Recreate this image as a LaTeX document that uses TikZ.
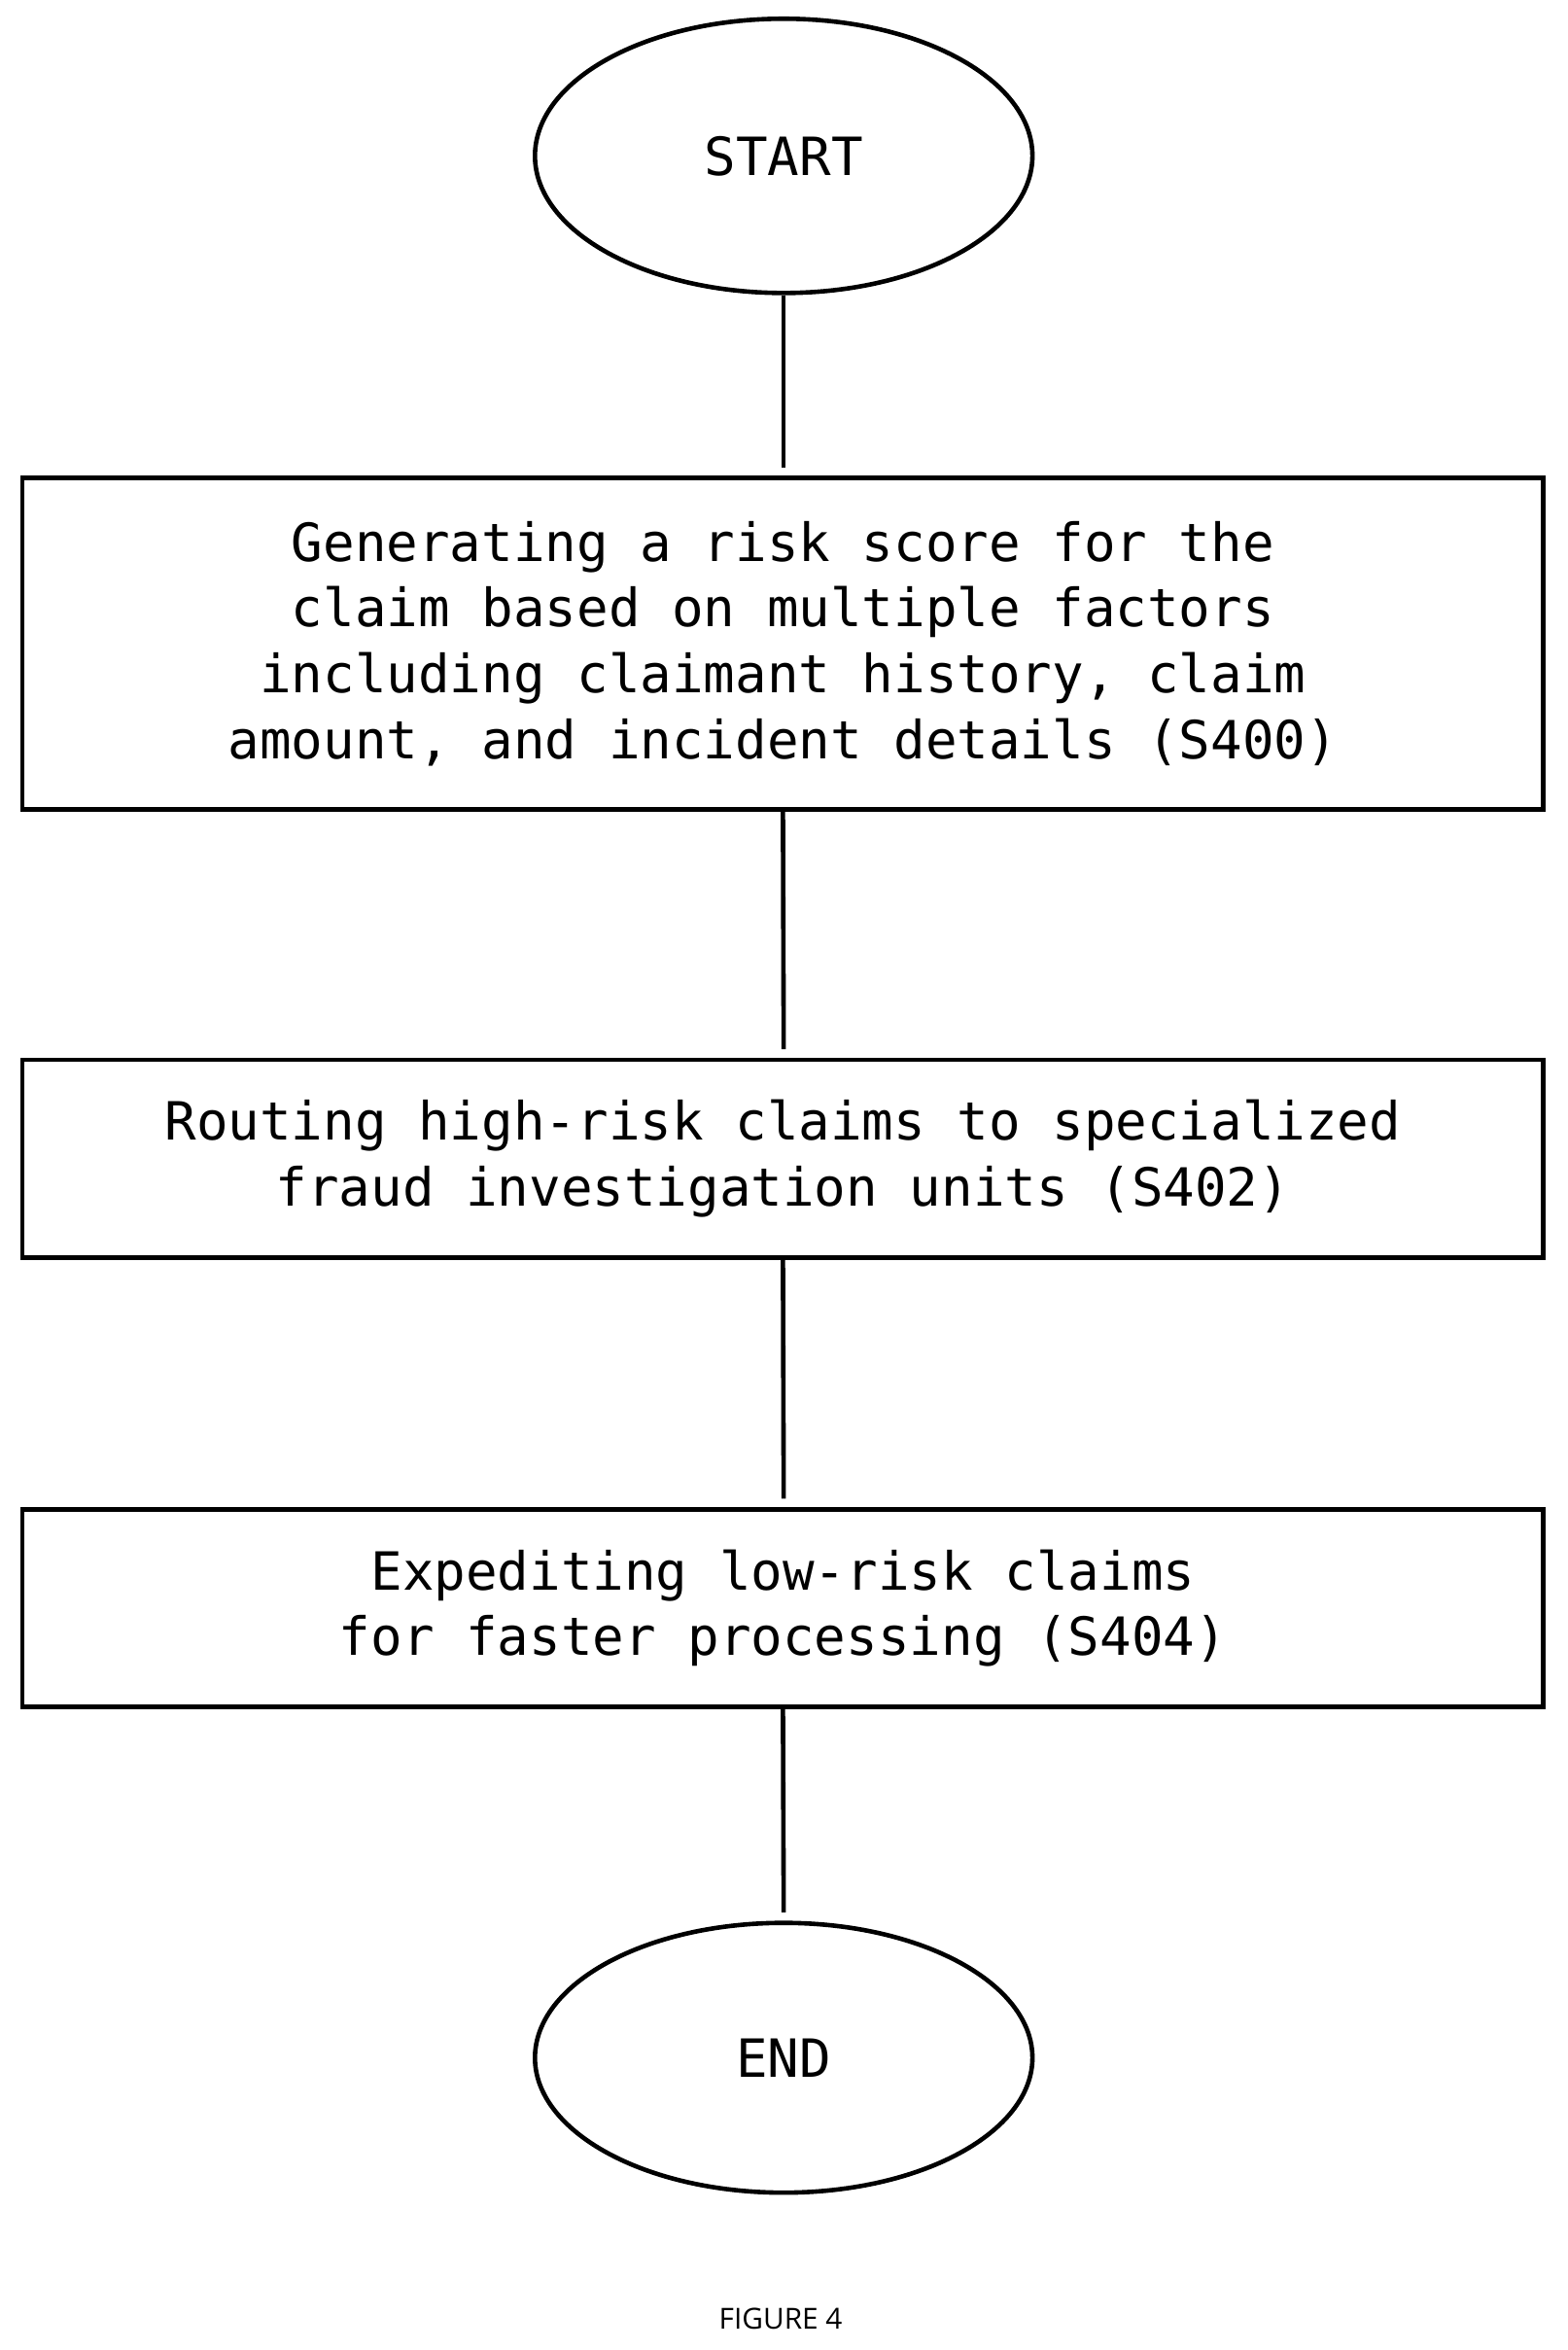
\documentclass[tikz,border=0pt]{standalone}
\usepackage{fontspec}
\setmonofont{DejaVu Sans Mono}
\setsansfont{Open Sans}
\usetikzlibrary{shapes.geometric}
\begin{document}
\begin{tikzpicture}[x=0.02cm,y=-0.02cm,line width=1.7pt,
  box/.style={draw,rectangle,minimum width=1015*0.02cm,align=center,font=\ttfamily\fontsize{20}{25}\selectfont,inner sep=0pt},
  term/.style={draw,ellipse,minimum width=332*0.02cm,minimum height=183*0.02cm,font=\ttfamily\fontsize{20}{25}\selectfont}]
\useasboundingbox (0,0) rectangle (1046,1568);
\node[term] (start) at (523,104) {START};
\node[box,minimum height=221*0.02cm] (s400) at (522.5,429.5) {Generating a risk score for the\\claim based on multiple factors\\including claimant history, claim\\amount, and incident details (S400)};
\node[box,minimum height=132*0.02cm] (s402) at (522.5,773) {Routing high-risk claims to specialized\\fraud investigation units (S402)};
\node[box,minimum height=132*0.02cm] (s404) at (522.5,1073) {Expediting low-risk claims\\for faster processing (S404)};
\node[term,minimum height=180*0.02cm] (end) at (523,1373) {END};
\coordinate (a1) at (523,312);
\coordinate (a2) at (523,700);
\coordinate (a3) at (523,1000);
\coordinate (a4) at (523,1276);
\draw (start.south) -- (a1);
\draw (s400.south) -- (a2);
\draw (s402.south) -- (a3);
\draw (s404.south) -- (a4);
\node[font=\sffamily\fontsize{11}{13}\selectfont] (fig) at (521,1547) {FIGURE 4};
\end{tikzpicture}
\end{document}
